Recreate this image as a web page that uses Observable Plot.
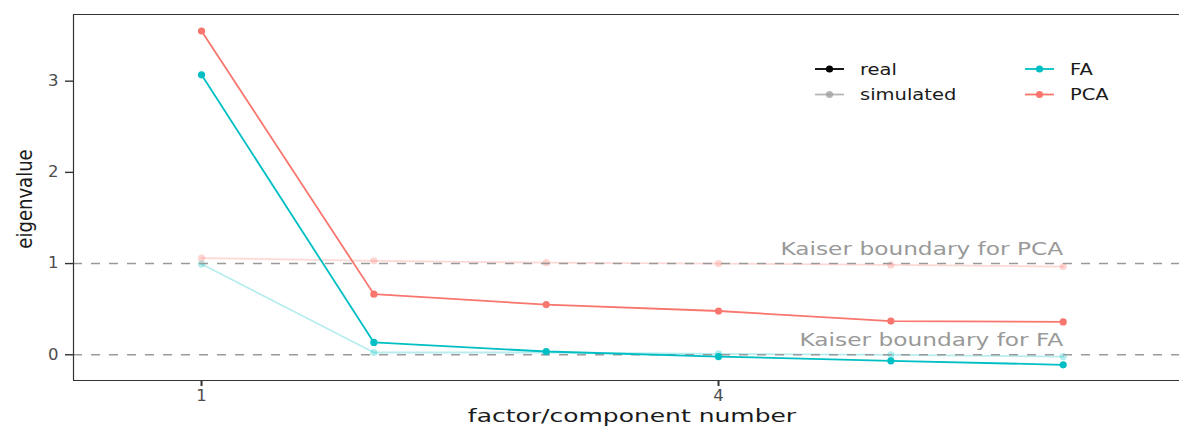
<!DOCTYPE html>
<html><head><meta charset="utf-8">
<script src="https://cdn.jsdelivr.net/npm/d3@7"></script>
<script src="https://cdn.jsdelivr.net/npm/@observablehq/plot@0.6"></script>
<style>body{margin:0;background:#fff} svg{display:block}</style>
</head><body><div id="chart"></div>
<script>
// ---- data ----
const components = [1, 2, 3, 4, 5, 6];
const pcaReal = [3.55, 0.665, 0.55, 0.48, 0.37, 0.36];
const faReal = [3.07, 0.135, 0.036, -0.02, -0.066, -0.11];
const pcaSim = [1.06, 1.03, 1.01, 1.0, 0.985, 0.967];
const faSim = [0.995, 0.025, 0.025, 0.01, 0.0, -0.02];
const methods = ["FA", "PCA"];
const methodColors = ["#00BFC4", "#F8766D"];
const types = ["real", "simulated"];
const kaiserLabels = ["Kaiser boundary for PCA", "Kaiser boundary for FA"];
const kaiserValues = [1, 0];
const xTicks = [1, 4];
const yTicks = [0, 1, 2, 3];
const xTitle = "factor/component number";
const yTitle = "eigenvalue";

// ---- build rows ----
const rows = [];
components.forEach((c, i) => {
  rows.push({component: c, value: faReal[i], method: "FA", type: "real"});
  rows.push({component: c, value: pcaReal[i], method: "PCA", type: "real"});
  rows.push({component: c, value: faSim[i], method: "FA", type: "simulated"});
  rows.push({component: c, value: pcaSim[i], method: "PCA", type: "simulated"});
});
const real = rows.filter(d => d.type === "real");
const sim = rows.filter(d => d.type === "simulated");
const kaiser = kaiserLabels.map((label, i) => ({label, value: kaiserValues[i]}));
const lastComp = d3.max(components);

const xDomain = [0.257, 6.675];
const yDomain = [-0.282, 3.731];
const fmt = d3.format("d");

const plot = Plot.plot({
  width: 1179, height: 428,
  marginLeft: 73, marginTop: 14, marginBottom: 48, marginRight: 0,
  style: {fontFamily: "DejaVu Sans", fontSize: "14px", color: "#4d4d4d", background: "white"},
  x: {domain: xDomain},
  y: {domain: yDomain},
  color: {domain: methods, range: methodColors},
  marks: [
    Plot.line(sim, {x: "component", y: "value", z: "method", stroke: "method", strokeWidth: 1.8, strokeOpacity: 0.28}),
    Plot.dot(sim, {x: "component", y: "value", fill: "method", r: 3.6, fillOpacity: 0.3}),
    Plot.ruleY(kaiser, {y: "value", stroke: "#9a9a9a", strokeWidth: 1.5, strokeDasharray: "9,9"}),
    Plot.text(kaiser, {x: () => lastComp, y: "value", text: "label", textAnchor: "end", dy: -14, fill: "#999999", fontSize: 17.5}),
    Plot.line(real, {x: "component", y: "value", z: "method", stroke: "method", strokeWidth: 1.8}),
    Plot.dot(real, {x: "component", y: "value", fill: "method", r: 3.6}),
    Plot.ruleX([xDomain[0]], {stroke: "#333", strokeWidth: 1.2}),
    Plot.ruleY([yDomain[0], yDomain[1]], {stroke: "#333", strokeWidth: 1.2}),
    Plot.axisX({ticks: xTicks, tickFormat: fmt, tickSize: 6, tickPadding: 4, label: null, stroke: "#333", strokeWidth: 2, fill: "#4d4d4d", fontSize: 15}),
    Plot.axisY({ticks: yTicks, tickFormat: fmt, tickSize: 8, tickPadding: 7, label: null, stroke: "#333", strokeWidth: 1.4, fill: "#4d4d4d", fontSize: 15})
  ]
});
document.getElementById("chart").appendChild(plot);

const svg = d3.select(plot);

function stretch(el, s) {
  const b = el.getBBox();
  const anchor = getComputedStyle(el).textAnchor;
  const ax = anchor === "end" ? b.x + b.width : anchor === "middle" ? b.x + b.width / 2 : b.x;
  const t = el.getAttribute("transform") || "";
  el.setAttribute("transform", `${t} translate(${ax},0) scale(${s},1) translate(${-ax},0)`);
}

// axis titles
const xt = svg.append("text")
  .attr("x", 632).attr("y", 422)
  .attr("text-anchor", "middle")
  .attr("font-family", "DejaVu Sans").attr("font-size", 17)
  .attr("fill", "#1a1a1a").text(xTitle);
svg.append("text")
  .attr("transform", "translate(32,199) rotate(-90) scale(0.95,1.12)")
  .attr("text-anchor", "middle")
  .attr("font-family", "DejaVu Sans").attr("font-size", 19)
  .attr("fill", "#1a1a1a").text(yTitle);

// legend
const legend = svg.append("g")
  .attr("font-family", "DejaVu Sans").attr("font-size", 16)
  .attr("text-anchor", "start").attr("fill", "#1a1a1a");
const legendItems = [
  {label: types[0], color: "#000000", opacity: 1, x: 815, y: 69},
  {label: types[1], color: "#9e9e9e", opacity: 0.75, x: 815, y: 94.5},
  {label: methods[0], color: methodColors[0], opacity: 1, x: 1025, y: 69},
  {label: methods[1], color: methodColors[1], opacity: 1, x: 1025, y: 94.5}
];
const legendTexts = [];
legendItems.forEach(it => {
  legend.append("line").attr("x1", it.x).attr("x2", it.x + 29).attr("y1", it.y).attr("y2", it.y)
    .attr("stroke", it.color).attr("stroke-opacity", it.opacity).attr("stroke-width", 1.8);
  legend.append("circle").attr("cx", it.x + 14.5).attr("cy", it.y).attr("r", 3.6)
    .attr("fill", it.color).attr("fill-opacity", it.opacity);
  legendTexts.push(legend.append("text").attr("x", it.x + 45).attr("y", it.y + 6)
    .attr("text-anchor", "start").text(it.label).node());
});

// horizontal stretching of texts to match the reference proportions
stretch(xt.node(), 1.47);
legendTexts.forEach(n => stretch(n, 1.22));
svg.selectAll('g[aria-label="text"] text').each(function() { stretch(this, 1.33); });
svg.selectAll('g[aria-label="x-axis tick label"] text, g[aria-label="y-axis tick label"] text').each(function() { stretch(this, 1.1); });
</script>
</body></html>
